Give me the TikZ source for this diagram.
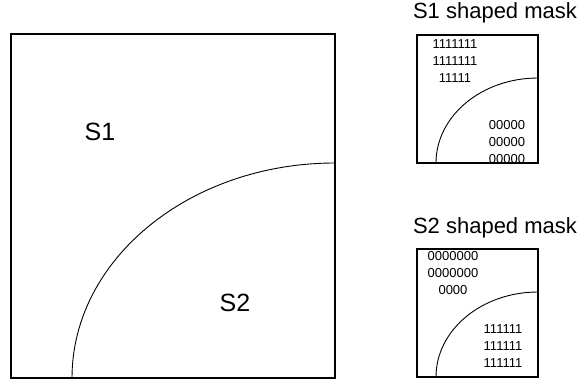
\documentclass[tikz,border=0pt]{standalone}
\usepackage{fontspec}
\setmainfont{Liberation Sans}
\usetikzlibrary{positioning}

\begin{document}
\begin{tikzpicture}[x=1pt, y=1pt,
    frame/.style={line width=1.1pt},
    curve/.style={line width=0.9pt},
    region/.style={font=\fontsize{25}{30}\selectfont},
    masktitle/.style={font=\fontsize{22}{26}\selectfont},
    bits/.style={font=\fontsize{13}{17}\selectfont, align=center, inner sep=0pt}]

\useasboundingbox (0,0) rectangle (584,386);

% Main square with curved boundary
\draw[frame] (11,8) rectangle (335,352);
\draw[curve] (72,8) arc[start angle=180, end angle=90, x radius=263, y radius=215];
\node[region] (s1) at (100,254) {S1};
\node[region] (s2) at (235,83) {S2};

% S1 shaped mask
\node[masktitle] (t1) at (495,373) {S1 shaped mask};
\draw[frame] (417,223) rectangle (538,351);
\draw[curve] (436,223) arc[start angle=180, end angle=90, x radius=102, y radius=85];
\node[bits] (ones1) at (455,325) {1111111\\1111111\\11111};
\node[bits] (zeros1) at (507,244) {00000\\00000\\00000};

% S2 shaped mask
\node[masktitle] (t2) at (495,158) {S2 shaped mask};
\draw[frame] (417,9) rectangle (538,137);
\draw[curve] (436,9) arc[start angle=180, end angle=90, x radius=102, y radius=85];
\node[bits] (zeros2) at (453,113) {0000000\\0000000\\0000};
\node[bits] (ones2) at (503,40) {111111\\111111\\111111};

\end{tikzpicture}
\end{document}
